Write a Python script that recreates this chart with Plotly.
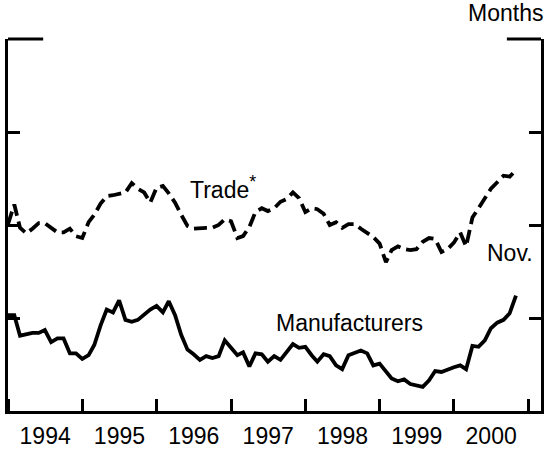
import pandas as pd
import plotly.graph_objects as go

# Monthly data, Jan 1994 - Nov 2000 (months of supply)
months = pd.date_range("1994-01-01", periods=83, freq="MS")

manufacturers = [
    1.303, 1.303, 1.281, 1.283, 1.284, 1.284, 1.287, 1.274, 1.278, 1.278, 1.262, 1.262,
    1.256, 1.260, 1.271, 1.292, 1.309, 1.306, 1.319, 1.298, 1.296, 1.298, 1.304, 1.309,
    1.313, 1.306, 1.318, 1.303, 1.282, 1.266, 1.261, 1.255, 1.259, 1.257, 1.259, 1.276,
    1.268, 1.260, 1.263, 1.248, 1.262, 1.261, 1.253, 1.259, 1.255, 1.263, 1.272, 1.268,
    1.269, 1.260, 1.253, 1.261, 1.259, 1.249, 1.245, 1.260, 1.263, 1.265, 1.262, 1.249,
    1.251, 1.242, 1.235, 1.232, 1.234, 1.229, 1.227, 1.226, 1.233, 1.243, 1.242, 1.245,
    1.247, 1.249, 1.245, 1.270, 1.269, 1.276, 1.289, 1.295, 1.298, 1.305, 1.324,
]

trade = [
    1.401, 1.422, 1.397, 1.391, 1.396, 1.402, 1.402, 1.397, 1.392, 1.392, 1.396, 1.388,
    1.386, 1.403, 1.411, 1.423, 1.431, 1.432, 1.433, 1.435, 1.445, 1.439, 1.435, 1.424,
    1.440, 1.442, 1.434, 1.424, 1.411, 1.399, 1.396, 1.397, 1.397, 1.397, 1.400, 1.406,
    1.404, 1.386, 1.388, 1.398, 1.414, 1.418, 1.415, 1.418, 1.425, 1.428, 1.435, 1.429,
    1.414, 1.418, 1.417, 1.412, 1.400, 1.403, 1.397, 1.401, 1.401, 1.396, 1.392, 1.387,
    1.380, 1.360, 1.373, 1.377, 1.374, 1.373, 1.374, 1.382, 1.386, 1.385, 1.371, 1.374,
    1.381, 1.392, 1.377, 1.408, 1.418, 1.429, 1.439, 1.446, 1.453, 1.452, 1.459,
]

y_ticks = [1.3, 1.4, 1.5]
y_range = [1.2, 1.6]
x_range = ["1994-01-01", "2001-03-04"]

FONT = "Liberation Sans, Arial, Helvetica, sans-serif"

fig = go.Figure()
fig.add_trace(go.Scatter(x=months, y=trade, mode="lines",
                         line=dict(color="black", width=3.8, dash="13px,6px"),
                         name="Trade", hoverinfo="skip"))
fig.add_trace(go.Scatter(x=months, y=manufacturers, mode="lines",
                         line=dict(color="black", width=3.8),
                         name="Manufacturers", hoverinfo="skip"))

fig.update_layout(
    width=545, height=452,
    margin=dict(l=8, r=4, t=39, b=41),
    paper_bgcolor="white", plot_bgcolor="white",
    showlegend=False,
    font=dict(family=FONT, size=23, color="black"),
    xaxis=dict(
        type="date", range=x_range, automargin=False,
        tick0="1994-01-01", dtick="M12", tickformat="%Y",
        ticklabelmode="period",
        ticks="inside", ticklen=12, tickwidth=2.5, tickcolor="black",
        showline=True, linecolor="black", linewidth=3,
        showgrid=False, zeroline=False,
        tickfont=dict(family=FONT, size=23),
        ticklabelstandoff=2,
    ),
    yaxis=dict(
        range=y_range, tickvals=y_ticks, showticklabels=False, automargin=False,
        ticks="inside", ticklen=12, tickwidth=2.5, tickcolor="black",
        showline=True, linecolor="black", linewidth=3, mirror="ticks",
        showgrid=False, zeroline=False,
    ),
)

# top corner segments of the frame
fig.add_shape(type="line", xref="paper", yref="paper", x0=0, x1=0.066, y0=1, y1=1,
              line=dict(color="black", width=3))
fig.add_shape(type="line", xref="paper", yref="paper", x0=0.936, x1=1, y0=1, y1=1,
              line=dict(color="black", width=3))

fig.add_annotation(x="1996-06-03", y=1.44, xanchor="left", yanchor="middle",
                   text="Trade<sup><span style='font-size:18px'>*</span></sup>",
                   showarrow=False, font=dict(family=FONT, size=23))
fig.add_annotation(x="1998-08-08", y=1.295, xanchor="center", yanchor="middle",
                   text="Manufacturers", showarrow=False,
                   font=dict(family=FONT, size=23))
fig.add_annotation(x="2000-10-03", y=1.370, xanchor="center", yanchor="middle",
                   text="Nov.", showarrow=False,
                   font=dict(family=FONT, size=23))
fig.add_annotation(xref="paper", yref="paper", x=1, y=1, xanchor="right", yanchor="middle",
                   xshift=4, yshift=26, text="Months", showarrow=False,
                   font=dict(family=FONT, size=23))

# remove the default page margin so the 545x452 figure fills the window exactly
fig.write_html("out.html", config={"displayModeBar": False},
               post_script="document.body.style.margin='0';")
